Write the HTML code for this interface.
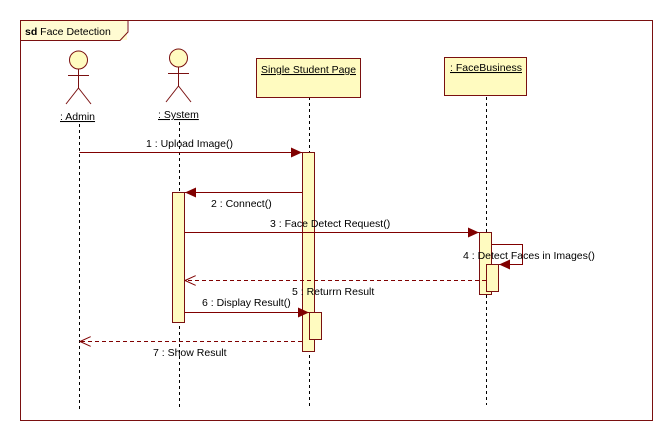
<!DOCTYPE html>
<html><head><meta charset="utf-8"><style>
html,body{margin:0;padding:0;background:#fff;}
svg{display:block;}
text{font-family:"Liberation Sans",sans-serif;font-size:10.5px;fill:#000;}
</style></head><body>
<svg width="672" height="440" viewBox="0 0 672 440" xmlns="http://www.w3.org/2000/svg">
<defs>
<marker id="af" markerWidth="12" markerHeight="10" refX="11" refY="5" orient="auto" markerUnits="userSpaceOnUse"><path d="M0,0 L11,5 L0,10 z" fill="#800000"/></marker>
<marker id="ao" markerWidth="12" markerHeight="10" refX="11" refY="5" orient="auto" markerUnits="userSpaceOnUse"><path d="M0,0 L11,5 L0,10" fill="none" stroke="#800000"/></marker>
</defs>
<rect x="20.5" y="20.5" width="632" height="400" fill="none" stroke="#7a1010"/>
<rect x="21" y="21" width="106" height="19" fill="#fffbd2"/>
<path d="M20.5,40.5 H120 L128,32 V20.5" fill="none" stroke="#7a1010"/>
<text x="25" y="35"><tspan font-weight="bold">sd</tspan> Face Detection</text>

<g stroke="#000" stroke-dasharray="3,3">
<line x1="79.5" y1="124" x2="79.5" y2="410"/>
<line x1="179.5" y1="122" x2="179.5" y2="410"/>
<line x1="309.5" y1="97" x2="309.5" y2="407"/>
<line x1="486.5" y1="97" x2="486.5" y2="405"/>
</g>

<g stroke="#7a1010" fill="#fffbc0">
<circle cx="78.5" cy="60" r="9"/>
<circle cx="178.5" cy="58" r="9"/>
</g>
<g stroke="#7a1010">
<line x1="78.5" y1="69" x2="78.5" y2="88"/><line x1="68" y1="75.5" x2="89" y2="75.5"/>
<line x1="78.5" y1="88" x2="66" y2="104"/><line x1="78.5" y1="88" x2="91" y2="104"/>
<line x1="178.5" y1="67" x2="178.5" y2="86"/><line x1="168" y1="73.5" x2="189" y2="73.5"/>
<line x1="178.5" y1="86" x2="166" y2="102"/><line x1="178.5" y1="86" x2="191" y2="102"/>
</g>
<text x="60" y="120" text-decoration="underline">: Admin</text>
<text x="158" y="118" text-decoration="underline">: System</text>

<rect x="256.5" y="58.5" width="104" height="39" fill="#fffbc0" stroke="#7a1010"/>
<text x="261" y="73" text-decoration="underline" textLength="95" lengthAdjust="spacingAndGlyphs">Single Student Page</text>
<rect x="444.5" y="57.5" width="82" height="38" fill="#fffbc0" stroke="#7a1010"/>
<text x="450" y="71" text-decoration="underline" textLength="72" lengthAdjust="spacingAndGlyphs">: FaceBusiness</text>

<g fill="#fffbc0" stroke="#7a1010">
<rect x="302.5" y="152.5" width="12" height="199"/>
<rect x="309.5" y="312.5" width="12" height="27"/>
<rect x="172.5" y="192.5" width="12" height="130"/>
<rect x="479.5" y="232.5" width="12" height="62"/>
<rect x="486.5" y="264.5" width="12" height="27"/>
</g>

<g stroke="#800000" fill="none">
<line x1="79.5" y1="152.5" x2="302" y2="152.5" marker-end="url(#af)"/>
<line x1="302" y1="192.5" x2="185" y2="192.5" marker-end="url(#af)"/>
<line x1="185" y1="232.5" x2="479" y2="232.5" marker-end="url(#af)"/>
<polyline points="492,244.5 522.5,244.5 522.5,264.5 499,264.5" marker-end="url(#af)"/>
<line x1="486" y1="280.5" x2="185" y2="280.5" stroke-dasharray="4,3" marker-end="url(#ao)"/>
<line x1="185" y1="312.5" x2="309" y2="312.5" marker-end="url(#af)"/>
<line x1="302" y1="341.5" x2="80" y2="341.5" stroke-dasharray="4,3" marker-end="url(#ao)"/>
</g>
<text x="146" y="147">1 : Upload Image()</text>
<text x="211" y="207">2 : Connect()</text>
<text x="270" y="227">3 : Face Detect Request()</text>
<text x="463" y="259">4 : Detect Faces in Images()</text>
<text x="292" y="295">5 : Returrn Result</text>
<text x="202" y="306">6 : Display Result()</text>
<text x="153" y="356">7 : Show Result</text>
</svg>
</body></html>
